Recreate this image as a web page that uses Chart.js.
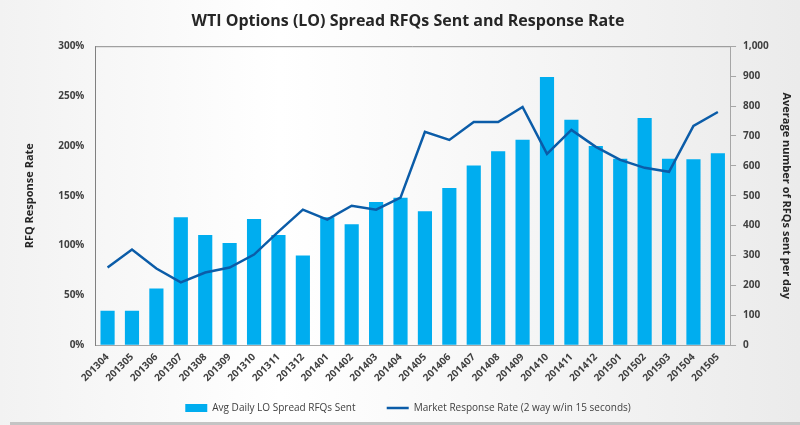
<!DOCTYPE html>
<html>
<head>
<meta charset="utf-8">
<script src="https://cdn.jsdelivr.net/npm/chart.js@4"></script>
<style>
  html, body { margin: 0; padding: 0; background: #fff; }
  #wrap { width: 800px; height: 425px; }
</style>
</head>
<body>
<div id="wrap"><canvas id="myChart" width="800" height="425"></canvas></div>
<script>
// 数据
var months = ['201304','201305','201306','201307','201308','201309','201310','201311','201312',
  '201401','201402','201403','201404','201405','201406','201407','201408','201409','201410',
  '201411','201412','201501','201502','201503','201504','201505'];
// Avg Daily LO Spread RFQs Sent (right axis)
var rfqsSent = [115,115,190,428,369,342,422,369,300,428,405,479,493,448,526,601,649,687,897,
  754,666,624,760,624,622,642];
// Market Response Rate, percent (left axis)
var responseRate = [78,96,77,63,73,78,91,114,136,126,140,136,148,214,206,224,224,239,192,
  216,199,186,178,174,220,234];

var barColor = '#00adef';
var lineColor = '#0b5ca8';
var tickFont = { family: 'Open Sans', size: 10, weight: 'bold' };

// 背景渐变 + 上边框
var bgPlugin = {
    id: 'bg',
    beforeDraw: function (chart) {
        var c = chart.ctx;
        var g = c.createLinearGradient(0, 0, chart.width, 0);
        g.addColorStop(0, '#f2f2f2');
        g.addColorStop(0.35, '#ffffff');
        g.addColorStop(1, '#ebebeb');
        c.save();
        c.fillStyle = g;
        c.fillRect(0, 0, chart.width, chart.height);
        c.fillStyle = '#c4c4c4';
        c.fillRect(10, chart.height - 3, chart.width - 10, 3);
        c.restore();
    },
    afterDraw: function (chart) {
        var a = chart.chartArea;
        var c = chart.ctx;
        c.save();
        c.strokeStyle = '#8c8c8c';
        c.lineWidth = 1;
        c.beginPath();
        c.moveTo(a.left, a.top + 0.5);
        c.lineTo(a.right, a.top + 0.5);
        c.stroke();
        c.restore();
    }
};

// 图例: 第一项后面多留一点空
function legendLabels(chart) {
    var items = Chart.defaults.plugins.legend.labels.generateLabels(chart);
    items.sort(function (a, b) { return a.datasetIndex - b.datasetIndex; });
    items[0].text = items[0].text + '\u00a0\u00a0\u00a0\u00a0\u00a0\u00a0\u00a0';
    return items;
}

var ctx = document.getElementById('myChart').getContext('2d');
var myChart = new Chart(ctx, {
    type: 'bar',
    data: {
        labels: months,
        datasets: [
            {
                type: 'bar',
                label: 'Avg Daily LO Spread RFQs Sent',
                data: rfqsSent,
                backgroundColor: barColor,
                borderWidth: 0,
                yAxisID: 'y1',
                order: 1,
                pointStyle: 'rect',
                barPercentage: 0.58,
                categoryPercentage: 1
            },
            {
                type: 'line',
                label: 'Market Response Rate (2 way w/in 15 seconds)',
                data: responseRate,
                borderColor: lineColor,
                backgroundColor: lineColor,
                borderWidth: 2.5,
                pointRadius: 0,
                tension: 0,
                yAxisID: 'y',
                order: 0,
                pointStyle: 'line'
            }
        ]
    },
    options: {
        responsive: false,
        animation: false,
        layout: { padding: { left: 19, right: 3, top: 10, bottom: 2 } },
        plugins: {
            title: {
                display: true,
                text: 'WTI Options (LO) Spread RFQs Sent and Response Rate',
                color: '#262626',
                font: { family: 'Open Sans', size: 16, weight: 'bold' },
                padding: { top: 2, bottom: 15 }
            },
            legend: {
                position: 'bottom',
                labels: {
                    usePointStyle: true,
                    pointStyleWidth: 22,
                    boxHeight: 8,
                    padding: 13,
                    color: '#404040',
                    font: { family: 'Open Sans', size: 10 },
                    generateLabels: legendLabels
                }
            },
            tooltip: { enabled: false }
        },
        scales: {
            x: {
                grid: { display: false, drawTicks: false },
                border: { display: true, color: '#a6a6a6' },
                ticks: {
                    color: '#404040',
                    font: tickFont,
                    maxRotation: 45,
                    minRotation: 45,
                    autoSkip: false,
                    padding: 6
                }
            },
            y: {
                position: 'left',
                min: 0,
                max: 300,
                grid: { display: false, drawTicks: false },
                border: { display: true, color: '#808080' },
                ticks: {
                    stepSize: 50,
                    color: '#404040',
                    font: tickFont,
                    padding: 11,
                    callback: function (v) { return v + '%'; }
                },
                title: {
                    display: true,
                    text: 'RFQ Response Rate',
                    color: '#262626',
                    font: { family: 'Open Sans', size: 11, weight: 'bold' },
                    padding: { bottom: 11 }
                }
            },
            y1: {
                position: 'right',
                min: 0,
                max: 1000,
                grid: { display: true, drawOnChartArea: false, drawTicks: true, tickLength: 6, color: '#a6a6a6' },
                border: { display: true, color: '#a6a6a6' },
                ticks: {
                    stepSize: 100,
                    color: '#404040',
                    font: tickFont,
                    padding: 7,
                    callback: function (v) { return v.toLocaleString('en-US'); }
                },
                title: {
                    display: true,
                    text: 'Average number of RFQs sent per day',
                    color: '#262626',
                    font: { family: 'Open Sans', size: 11, weight: 'bold' },
                    padding: { top: 4 }
                }
            }
        }
    },
    plugins: [bgPlugin]
});
</script>
</body>
</html>
